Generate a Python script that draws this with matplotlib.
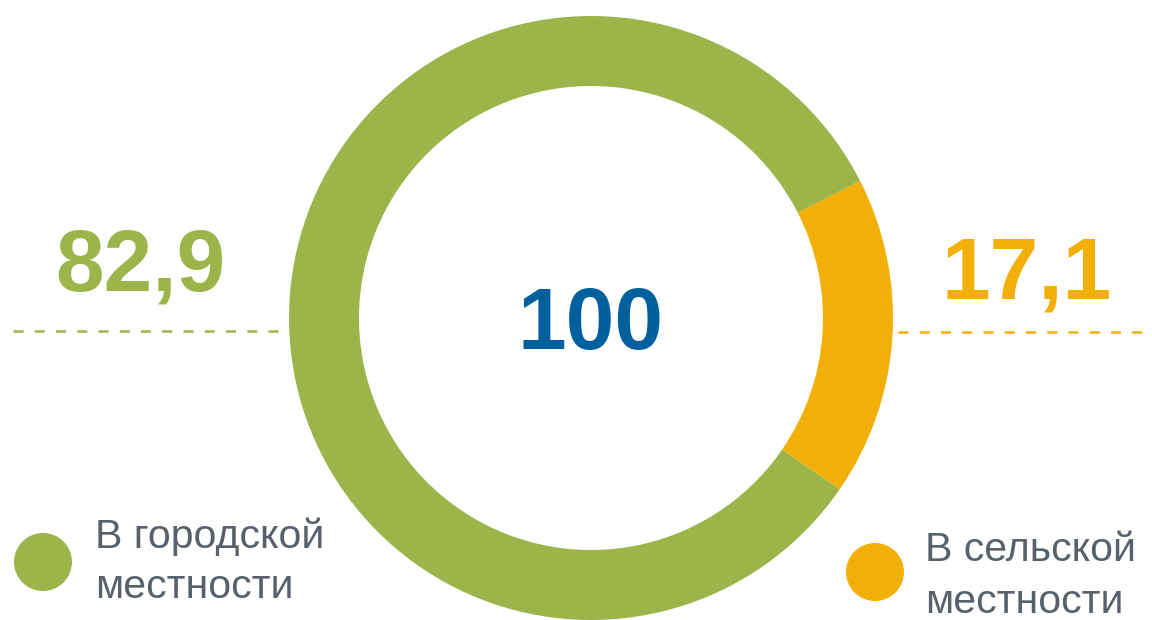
import matplotlib
matplotlib.use("Agg")
import matplotlib.pyplot as plt
from matplotlib.patches import Circle

categories = [["В сельской", "местности"], ["В городской", "местности"]]
values = [17.1, 82.9]
value_labels = ["17,1", "82,9"]
total_label = "100"
colors = ["#F2AF07", "#9DB44A"]
text_gray = "#58616B"
blue = "#00609E"

plt.rcParams['font.family'] = ['Liberation Sans', 'DejaVu Sans']

fig = plt.figure(figsize=(11.52, 6.2), dpi=100)
ax = fig.add_axes([0, 0, 1, 1])

H = 620
cx, cy = 591, H - 318
R = 302
ax.pie(values, colors=colors, startangle=27, counterclock=False,
       center=(cx, cy), radius=R,
       wedgeprops=dict(width=70, edgecolor='none', linewidth=0))

ax.set_xlim(0, 1152)
ax.set_ylim(0, H)
ax.set_aspect('equal')
ax.axis('off')

# center total
ax.text(cx, H - 349, total_label, color=blue, fontsize=63, fontweight='bold',
        ha='center', va='baseline')

# value labels
ax.text(140, H - 290, value_labels[1], color=colors[1], fontsize=63,
        fontweight='bold', ha='center', va='baseline')
ax.text(1027, H - 299, value_labels[0], color=colors[0], fontsize=63,
        fontweight='bold', ha='center', va='baseline')

# dashed lines
ax.plot([13, 282], [H - 331, H - 331], color=colors[1], lw=1.8,
        dashes=(4.0, 4.5))
ax.plot([898, 1152], [H - 332, H - 332], color=colors[0], lw=1.8,
        dashes=(4.0, 4.5))

# legend
fs = 29.5
ax.add_patch(Circle((43, H - 562), 29, color=colors[1], lw=0))
ax.text(95, H - 548, categories[1][0], color=text_gray, fontsize=fs,
        ha='left', va='baseline')
ax.text(95, H - 598, categories[1][1], color=text_gray, fontsize=fs,
        ha='left', va='baseline')
ax.add_patch(Circle((875, H - 572), 29, color=colors[0], lw=0))
ax.text(925, H - 561, categories[0][0], color=text_gray, fontsize=fs,
        ha='left', va='baseline')
ax.text(925, H - 613, categories[0][1], color=text_gray, fontsize=fs,
        ha='left', va='baseline')

fig.savefig("out.png", dpi=100)
